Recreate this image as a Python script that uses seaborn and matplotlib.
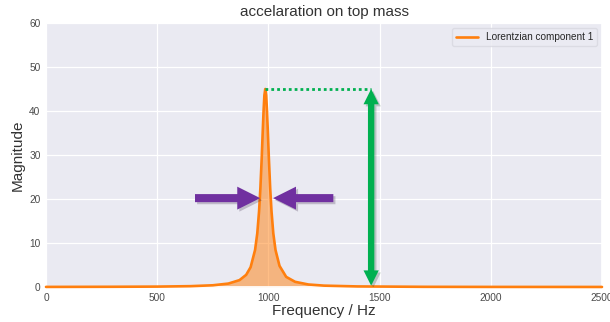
import matplotlib
matplotlib.use("Agg")
import matplotlib.pyplot as plt
import matplotlib.patheffects as pe
from matplotlib.patches import FancyArrowPatch
import seaborn as sns
import pandas as pd

# ---- data ----
freq = [0, 300, 500, 650, 750, 820, 870, 900, 920, 940, 950, 958, 964, 970, 974,
        978, 982, 986, 990, 994, 998, 1002, 1008, 1014, 1022, 1032, 1050, 1080,
        1120, 1180, 1250, 1400, 1700, 2000, 2500]
magnitude = [0.02, 0.05, 0.09, 0.19, 0.39, 0.78, 1.56, 2.76, 4.5, 8.4, 12.2, 17.2,
             22.5, 29.4, 34.7, 39.7, 43.6, 45.0, 43.6, 39.7, 34.7, 29.4, 22.5, 17.2,
             12.2, 8.4, 4.8, 2.3, 1.18, 0.57, 0.31, 0.13, 0.04, 0.02, 0.01]
series_label = "Lorentzian component 1"
title = "accelaration on top mass"
xlabel = "Frequency / Hz"
ylabel = "Magnitude"
xticks = [0, 500, 1000, 1500, 2000, 2500]
yticks = [0, 10, 20, 30, 40, 50, 60]

# annotation anchors (data units)
peak_f, peak_m = 986, 45.0
height_f = 1462
width_left = (670, 963)
width_right = (1292, 1021)
width_level = 20.2

df = pd.DataFrame({"freq": freq, "mag": magnitude})

sns.set_theme(style="darkgrid")
plt.rcParams["font.family"] = ["Liberation Sans", "DejaVu Sans"]

fig = plt.figure(figsize=(6.10, 3.22), dpi=100)
ax = fig.add_axes([46 / 610, 1 - 287 / 322, 556 / 610, 264 / 322])

orange = "#ff7f0e"
sns.lineplot(data=df, x="freq", y="mag", ax=ax, color=orange, lw=1.9,
             label=series_label, clip_on=False, zorder=3)
ax.fill_between(df["freq"], df["mag"], 0, color=orange, alpha=0.5, lw=0, zorder=2)

ax.set_xlim(0, 2500)
ax.set_ylim(0, 60)
ax.set_xticks(xticks)
ax.set_yticks(yticks)
ax.grid(True, color="white", lw=0.9)
ax.tick_params(axis="both", labelsize=7.3, colors="#4a4a4a", length=0, pad=4)
ax.set_title(title, fontsize=11, color="#333333", pad=5)
ax.set_xlabel(xlabel, fontsize=11, color="#333333", labelpad=1)
ax.set_ylabel(ylabel, fontsize=11, color="#333333", labelpad=3)

leg = ax.legend(loc="upper right", fontsize=7.2, frameon=True, handlelength=2.2,
                borderaxespad=0.5)
leg.get_frame().set_facecolor("#eaeaf2")
leg.get_frame().set_edgecolor("#d8d8e0")

green = "#00b050"
purple = "#7030a0"
shadow = [pe.SimplePatchShadow(offset=(1.5, -1.5), alpha=0.22), pe.Normal()]

# dotted peak-level line
ax.plot([peak_f, height_f], [peak_m, peak_m], color=green, lw=2.0,
        ls=(0, (1, 1.1)), zorder=4)

# green double arrow (height)
mid = peak_m / 2
for y_end in (peak_m, 0.3):
    a = FancyArrowPatch((height_f, mid), (height_f, y_end),
                        arrowstyle="simple,head_length=11,head_width=11,tail_width=4.6",
                        mutation_scale=1, color=green, lw=0, zorder=5,
                        shrinkA=0, shrinkB=0)
    a.set_path_effects(shadow)
    ax.add_patch(a)

# purple arrows (width)
for x0, x1 in (width_left, width_right):
    a = FancyArrowPatch((x0, width_level), (x1, width_level),
                        arrowstyle="simple,head_length=16.5,head_width=16.5,tail_width=5.8",
                        mutation_scale=1, color=purple, lw=0, zorder=5,
                        shrinkA=0, shrinkB=0)
    a.set_path_effects(shadow)
    ax.add_patch(a)

fig.savefig("out.png", dpi=100)
